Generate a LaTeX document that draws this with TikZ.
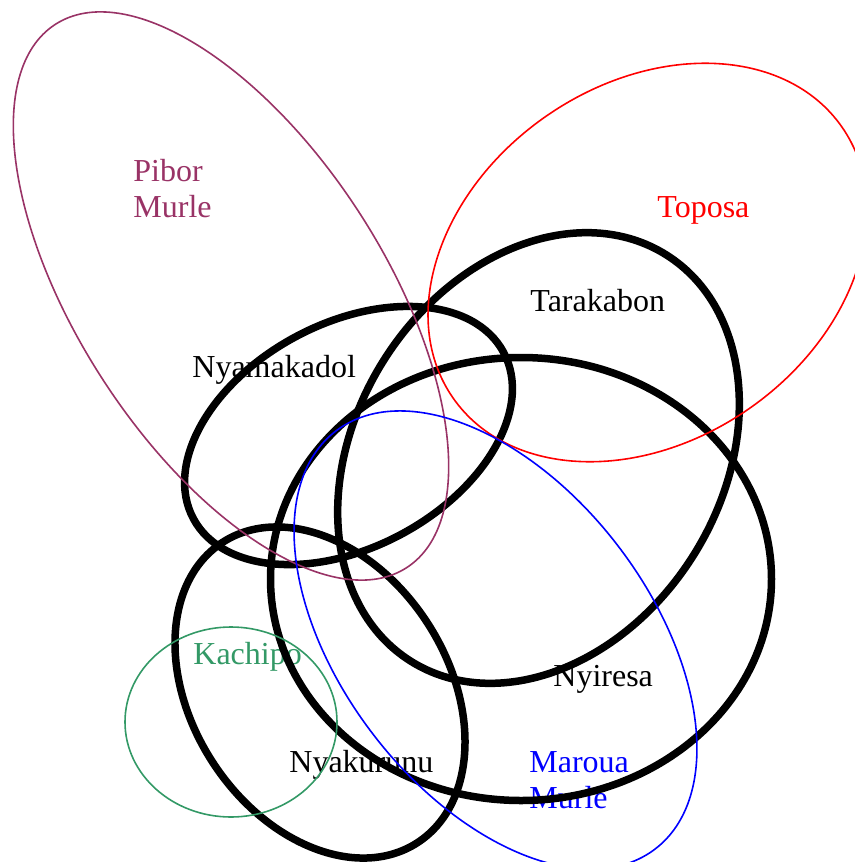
\documentclass[tikz,border=0pt]{standalone}
\usepackage{fontspec}
\setmainfont{Liberation Serif}
\definecolor{piborc}{RGB}{153,51,102}
\definecolor{kachc}{RGB}{51,153,102}
\definecolor{toposac}{RGB}{255,0,0}
\definecolor{marouac}{RGB}{0,0,255}
\begin{document}
\begin{tikzpicture}[x=0.5pt,y=-0.5pt,
  thickset/.style={draw=black,line width=3.75pt},
  thinset/.style={line width=0.8pt},
  lbl/.style={anchor=base west,inner sep=0pt,font=\fontsize{16}{18}\selectfont}]
\useasboundingbox (0,0) rectangle (855,862);
\clip (0,0) rectangle (855,862);
% labels
\node[lbl,text=piborc] (pibor) at (133,181) {\begin{tabular}[t]{@{}l@{}}Pibor\\Murle\end{tabular}};
\node[lbl,text=toposac] (toposa) at (657,217) {Toposa};
\node[lbl] (tarakabon) at (530,311) {Tarakabon};
\node[lbl] (nyamakadol) at (192,377) {Nyamakadol};
\node[lbl,text=kachc] (kachipo) at (193,664) {Kachipo};
\node[lbl] (nyakurunu) at (289,772) {Nyakurunu};
\node[lbl] (nyiresa) at (553,686) {Nyiresa};
\node[lbl,text=marouac] (maroua) at (529,772) {\begin{tabular}[t]{@{}l@{}}Maroua\\Murle\end{tabular}};
% black sets
\draw[thickset,rotate around={57.8:(538.5,458)}] (538.5,458) ellipse [x radius=240, y radius=183];
\draw[thickset,rotate around={28.2:(348.5,435.5)}] (348.5,435.5) ellipse [x radius=176, y radius=112];
\draw[thickset] (521,579) ellipse [x radius=250.5, y radius=221.5];
\draw[thickset,rotate around={-57:(320,692.5)}] (320,692.5) ellipse [x radius=179, y radius=128];
% coloured sets
\draw[thinset,draw=piborc,rotate around={-57.1:(231,296)}] (231,296) ellipse [x radius=323.5, y radius=153];
\draw[thinset,draw=toposac,rotate around={34.9:(647.5,262.5)}] (647.5,262.5) ellipse [x radius=237, y radius=178];
\draw[thinset,draw=marouac,rotate around={-52.6:(495.5,640)}] (495.5,640) ellipse [x radius=263, y radius=154.5];
\draw[thinset,draw=kachc] (231,722) ellipse [x radius=106, y radius=95];
\end{tikzpicture}
\end{document}
